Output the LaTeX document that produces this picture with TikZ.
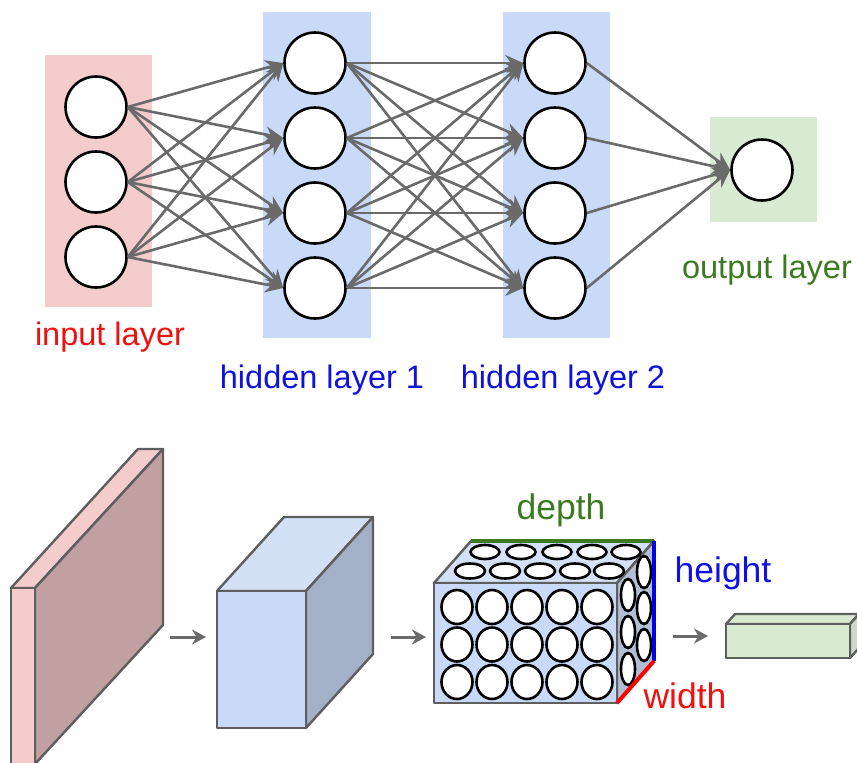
\documentclass[tikz,border=0pt]{standalone}
\usepackage{fontspec}
\setmainfont{Liberation Sans}
\usetikzlibrary{arrows.meta}
\definecolor{edgegray}{HTML}{6A6A6A}
\definecolor{boxgray}{HTML}{5E5E5E}
\definecolor{inputbg}{HTML}{F4CCCC}
\definecolor{hiddenbg}{HTML}{C9DAF8}
\definecolor{outputbg}{HTML}{D9EAD3}
\definecolor{slabside}{HTML}{C0A0A0}
\definecolor{cubetop}{HTML}{D3E0F6}
\definecolor{cubeside}{HTML}{A3B0C8}
\definecolor{volside}{HTML}{B2BED3}
\definecolor{labelred}{HTML}{F01010}
\definecolor{labelblue}{HTML}{1010E0}
\definecolor{labelgreen}{HTML}{3C7A22}
\begin{document}
\begin{tikzpicture}[x=1pt,y=-1pt,
    neuron/.style={circle,draw=black,line width=2.6pt,fill=white,minimum size=61pt,inner sep=0pt},
    link/.style={draw=edgegray,line width=2.6pt,-{Stealth[length=18pt,width=16pt]}},
    flow/.style={draw=edgegray,line width=3pt,-{Stealth[length=14pt,width=15pt]}},
    face/.style={draw=boxgray,line width=2.4pt,line join=round},
    layername/.style={anchor=base,font=\fontsize{32.5}{38}\selectfont},
    dimname/.style={anchor=base,font=\fontsize{35.5}{42}\selectfont},
    dot/.style={draw=black,line width=2.6pt,fill=white}]
  \useasboundingbox (0,0) rectangle (857,763);
  \clip (0,0) rectangle (857,763);
  % layer backgrounds
  \fill[inputbg] (45,55) rectangle (152,307);
  \fill[hiddenbg] (263,12) rectangle (371,338);
  \fill[hiddenbg] (503,12) rectangle (610,338);
  \fill[outputbg] (710,117) rectangle (817,222);
  % neurons
  \draw
    (96,107) node[neuron] (i1){}
    (96,182) node[neuron] (i2){}
    (96,257) node[neuron] (i3){}
    (315,63) node[neuron] (a1){}
    (315,138) node[neuron] (a2){}
    (315,213) node[neuron] (a3){}
    (315,288) node[neuron] (a4){}
    (555,63) node[neuron] (b1){}
    (555,138) node[neuron] (b2){}
    (555,213) node[neuron] (b3){}
    (555,288) node[neuron] (b4){}
    (762,170) node[neuron] (o){};
  \begin{scope}[link]
    \draw (i1.east) to (a1.west);
    \draw (i1.east) to (a2.west);
    \draw (i1.east) to (a3.west);
    \draw (i1.east) to (a4.west);
    \draw (i2.east) to (a1.west);
    \draw (i2.east) to (a2.west);
    \draw (i2.east) to (a3.west);
    \draw (i2.east) to (a4.west);
    \draw (i3.east) to (a1.west);
    \draw (i3.east) to (a2.west);
    \draw (i3.east) to (a3.west);
    \draw (i3.east) to (a4.west);
    \draw (a1.east) to (b1.west);
    \draw (a1.east) to (b2.west);
    \draw (a1.east) to (b3.west);
    \draw (a1.east) to (b4.west);
    \draw (a2.east) to (b1.west);
    \draw (a2.east) to (b2.west);
    \draw (a2.east) to (b3.west);
    \draw (a2.east) to (b4.west);
    \draw (a3.east) to (b1.west);
    \draw (a3.east) to (b2.west);
    \draw (a3.east) to (b3.west);
    \draw (a3.east) to (b4.west);
    \draw (a4.east) to (b1.west);
    \draw (a4.east) to (b2.west);
    \draw (a4.east) to (b3.west);
    \draw (a4.east) to (b4.west);
    \draw (b1.east) to (o.west);
    \draw (b2.east) to (o.west);
    \draw (b3.east) to (o.west);
    \draw (b4.east) to (o.west);
  \end{scope}
  \node[layername,text=labelred] (inname) at (110,345) {input layer};
  \node[layername,text=labelblue] (h1name) at (322,388) {hidden layer 1};
  \node[layername,text=labelblue] (h2name) at (563,388) {hidden layer 2};
  \node[layername,text=labelgreen] (outname) at (767,278) {output layer};
  % input slab
  \filldraw[face,fill=inputbg] (11,588) -- (138,449) -- (163,449) -- (35,588) -- cycle;
  \filldraw[face,fill=slabside] (35,588) -- (163,449) -- (163,625) -- (35,764) -- cycle;
  \filldraw[face,fill=inputbg] (11,588) rectangle (35,780);
  % hidden cube
  \filldraw[face,fill=cubetop] (217,591) -- (284,517) -- (373,517) -- (306,591) -- cycle;
  \filldraw[face,fill=cubeside] (306,591) -- (373,517) -- (373,654) -- (306,728) -- cycle;
  \filldraw[face,fill=hiddenbg] (217,591) rectangle (306,728);
  % volume of neurons
  \filldraw[face,fill=cubetop] (434,583) -- (471,541) -- (654,541) -- (617,583) -- cycle;
  \filldraw[face,fill=volside] (617,583) -- (654,541) -- (654,661) -- (617,703) -- cycle;
  \filldraw[face,fill=hiddenbg] (434,583) rectangle (617,703);
  \foreach \x in {457,492,527,562,597}
    \foreach \y in {607,644.5,682}
      \draw[dot] (\x,\y) ellipse [x radius=15.5pt,y radius=17pt];
  \foreach \x in {485,521,557,592,626}
    \draw[dot] (\x,552) ellipse [x radius=14.5pt,y radius=7pt];
  \foreach \x in {470,505,540,575,609}
    \draw[dot] (\x,571) ellipse [x radius=15pt,y radius=7.5pt];
  \foreach \y in {595,632,669}
    \draw[dot] (628,\y) ellipse [x radius=7pt,y radius=16pt];
  \foreach \y in {572,608,645}
    \draw[dot] (644,\y) ellipse [x radius=7pt,y radius=16pt];
  \draw[labelgreen,line width=3.5pt] (471,541) -- (654,541);
  \draw[blue!90!black,line width=3.5pt] (654,541) -- (654,661);
  \draw[red,line width=4pt] (617,703) -- (654,661);
  \node[dimname,text=labelgreen] (dname) at (561,519) {depth};
  \node[dimname,text=labelblue] (hname) at (723,582) {height};
  \node[dimname,text=labelred] (wname) at (685,708) {width};
  % output box
  \filldraw[face,fill=outputbg] (726,624) -- (735,614) -- (859,614) -- (850,624) -- cycle;
  \filldraw[face,fill=outputbg!85!gray] (850,624) -- (859,614) -- (859,648) -- (850,658) -- cycle;
  \filldraw[face,fill=outputbg] (726,624) rectangle (850,658);
  % arrows between stages
  \coordinate (s1) at (170,637);
  \coordinate (t1) at (206,637);
  \coordinate (s2) at (391,637);
  \coordinate (t2) at (426,637);
  \coordinate (s3) at (673,636);
  \coordinate (t3) at (708,636);
  \draw[flow] (s1) -- (t1);
  \draw[flow] (s2) -- (t2);
  \draw[flow] (s3) -- (t3);
\end{tikzpicture}
\end{document}
